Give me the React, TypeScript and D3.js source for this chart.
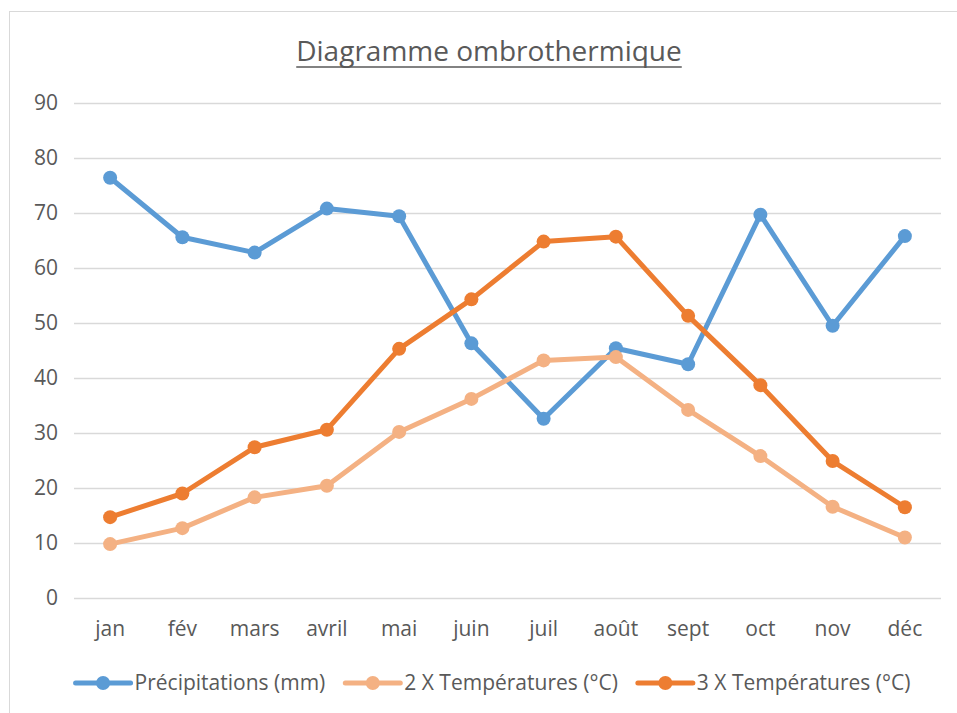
import React, { useEffect, useRef } from 'react';
import * as d3 from 'd3';

const months = ['jan', 'fév', 'mars', 'avril', 'mai', 'juin', 'juil', 'août', 'sept', 'oct', 'nov', 'déc'];
const precipitations = [76.4, 65.6, 62.8, 70.8, 69.4, 46.3, 32.6, 45.4, 42.5, 69.7, 49.5, 65.8];
const temp2x = [9.8, 12.7, 18.3, 20.4, 30.2, 36.2, 43.2, 43.8, 34.2, 25.8, 16.6, 11.0];
const temp3x = [14.7, 19.0, 27.4, 30.6, 45.3, 54.3, 64.8, 65.7, 51.3, 38.7, 24.9, 16.5];
const yTicks = [0, 10, 20, 30, 40, 50, 60, 70, 80, 90];

const series = [
  { name: 'Précipitations (mm)', values: precipitations, color: '#5b9bd5' },
  { name: '2 X Températures (°C)', values: temp2x, color: '#f4b183' },
  { name: '3 X Températures (°C)', values: temp3x, color: '#ed7d31' },
];

const FONT = '"Open Sans", sans-serif';
const TEXT = '#595959';

const App: React.FC = () => {
  const svgRef = useRef<SVGSVGElement | null>(null);

  useEffect(() => {
    document.body.style.margin = '0';
    const width = 957;
    const height = 713;
    const margin = { top: 103, right: 16, bottom: 115, left: 74 };

    const svg = d3.select(svgRef.current);
    svg.selectAll('*').remove();

    // chart frame
    svg.append('rect')
      .attr('x', 9.5)
      .attr('y', 11.5)
      .attr('width', width)
      .attr('height', height)
      .attr('fill', 'white')
      .attr('stroke', '#d9d9d9');

    const x = d3.scaleBand<string>()
      .domain(months)
      .range([margin.left, width - margin.right]);

    const y = d3.scaleLinear()
      .domain([0, 90])
      .range([height - margin.bottom, margin.top]);

    // title
    const title = svg.append('text')
      .attr('x', 489)
      .attr('y', 61)
      .attr('text-anchor', 'middle')
      .attr('font-family', FONT)
      .attr('font-size', 28)
      .attr('fill', TEXT)
      .text('Diagramme ombrothermique');
    const tw = (title.node() as SVGTextElement).getComputedTextLength();
    svg.append('line')
      .attr('x1', 489 - tw / 2)
      .attr('x2', 489 + tw / 2)
      .attr('y1', 67)
      .attr('y2', 67)
      .attr('stroke', TEXT)
      .attr('stroke-width', 1.5);

    // grid
    svg.append('g')
      .selectAll('line')
      .data(yTicks)
      .join('line')
      .attr('x1', margin.left)
      .attr('x2', width - margin.right)
      .attr('y1', (d) => y(d) + 0.5)
      .attr('y2', (d) => y(d) + 0.5)
      .attr('stroke', '#d9d9d9')
      .attr('stroke-width', 1.5);

    // y labels
    svg.append('g')
      .selectAll('text')
      .data(yTicks)
      .join('text')
      .attr('x', 58)
      .attr('y', (d) => y(d))
      .attr('dy', '0.35em')
      .attr('text-anchor', 'end')
      .attr('font-family', FONT)
      .attr('font-size', 21)
      .attr('fill', TEXT)
      .text((d) => d);

    // x labels
    svg.append('g')
      .selectAll('text')
      .data(months)
      .join('text')
      .attr('x', (d) => (x(d) ?? 0) + x.bandwidth() / 2)
      .attr('y', 629)
      .attr('dy', '0.35em')
      .attr('text-anchor', 'middle')
      .attr('font-family', FONT)
      .attr('font-size', 21)
      .attr('fill', TEXT)
      .text((d) => d);

    const line = d3.line<number>()
      .x((_, i) => (x(months[i]) ?? 0) + x.bandwidth() / 2)
      .y((d) => y(d));

    series.forEach((s) => {
      const g = svg.append('g');
      g.append('path')
        .datum(s.values)
        .attr('fill', 'none')
        .attr('stroke', s.color)
        .attr('stroke-width', 5)
        .attr('stroke-linejoin', 'round')
        .attr('d', line);
      g.selectAll('circle')
        .data(s.values)
        .join('circle')
        .attr('cx', (_, i) => (x(months[i]) ?? 0) + x.bandwidth() / 2)
        .attr('cy', (d) => y(d))
        .attr('r', 7)
        .attr('fill', s.color);
    });

    // legend
    const legend = svg.append('g').attr('transform', 'translate(0,683)');
    const items = series.map((s) => {
      const item = legend.append('g');
      item.append('line')
        .attr('x1', 0).attr('x2', 55)
        .attr('y1', 0).attr('y2', 0)
        .attr('stroke', s.color)
        .attr('stroke-width', 5)
        .attr('stroke-linecap', 'round');
      item.append('circle')
        .attr('cx', 27.5)
        .attr('cy', 0)
        .attr('r', 7)
        .attr('fill', s.color);
      const t = item.append('text')
        .attr('x', 59)
        .attr('dy', '0.35em')
        .attr('font-family', FONT)
        .attr('font-size', 21)
        .attr('fill', TEXT)
        .text(s.name);
      const w = 59 + (t.node() as SVGTextElement).getComputedTextLength();
      return { item, w };
    });
    const gap = 20;
    const total = d3.sum(items, (d) => d.w) + gap * (items.length - 1);
    let cx = 493 - total / 2;
    items.forEach((d) => {
      d.item.attr('transform', `translate(${cx},0)`);
      cx += d.w + gap;
    });
  }, []);

  return <svg ref={svgRef} width={957} height={713} style={{ display: 'block' }}></svg>;
};

export default App;
